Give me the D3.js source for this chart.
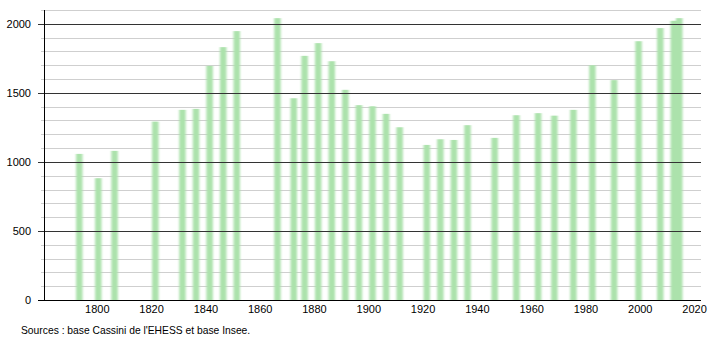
<!DOCTYPE html>
<html>
<head>
<meta charset="utf-8">
<script src="https://cdn.jsdelivr.net/npm/d3@7"></script>
<style>
  body { margin: 0; background: #fff; }
  svg { display: block; font-family: "Liberation Sans", Arial, sans-serif; }
</style>
</head>
<body>
<div id="chart"></div>
<script>
const years = [1793, 1800, 1806, 1821, 1831, 1836, 1841, 1846, 1851, 1866, 1872, 1876, 1881, 1886,
  1891, 1896, 1901, 1906, 1911, 1921, 1926, 1931, 1936, 1946, 1954, 1962, 1968, 1975, 1982,
  1990, 1999, 2007, 2012, 2014];
const population = [1058, 882, 1080, 1292, 1377, 1384, 1696, 1831, 1947, 2041, 1461, 1768, 1860, 1729,
  1522, 1411, 1403, 1348, 1251, 1123, 1164, 1159, 1266, 1174, 1338, 1353, 1335, 1377, 1700,
  1592, 1874, 1969, 2022, 2041];
const xTicks = [1800, 1820, 1840, 1860, 1880, 1900, 1920, 1940, 1960, 1980, 2000, 2020];
const yTicks = [0, 500, 1000, 1500, 2000];
const source = "Sources : base Cassini de l'EHESS et base Insee.";

const w = 710;
const h = 340;
const margin = { top: 10, left: 44, right: 9, bottom: 40 };

const svg = d3.select('#chart').append('svg').attr('width', w).attr('height', h);

svg.append('defs').append('filter')
  .attr('id', 'soft')
  .attr('x', '-50%').attr('width', '200%')
  .append('feGaussianBlur')
  .attr('stdDeviation', '0.8 0');

const x = d3.scaleLinear().domain([1780, 2022]).range([margin.left, w - margin.right]);
const y = d3.scaleLinear().domain([0, 2100]).range([h - margin.bottom, margin.top]);

// minor grid every 100
const minor = d3.range(100, 2101, 100).filter(v => v % 500 !== 0);
svg.append('g')
  .selectAll('line')
  .data(minor)
  .enter()
  .append('line')
  .attr('x1', margin.left - 3)
  .attr('x2', w - margin.right)
  .attr('y1', d => Math.round(y(d)) + 0.5)
  .attr('y2', d => Math.round(y(d)) + 0.5)
  .attr('stroke', '#cfcfcf');

// bars
svg.append('g')
  .attr('filter', 'url(#soft)')
  .selectAll('rect')
  .data(years)
  .enter()
  .append('rect')
  .attr('x', d => x(d) - 3.25)
  .attr('width', 6.5)
  .attr('y', (d, i) => y(population[i]))
  .attr('height', (d, i) => y(0) - y(population[i]))
  .attr('fill', '#ace2ac');

// major grid
svg.append('g')
  .selectAll('line')
  .data(yTicks.filter(v => v > 0))
  .enter()
  .append('line')
  .attr('x1', margin.left - 6)
  .attr('x2', w - margin.right)
  .attr('y1', d => Math.round(y(d)) + 0.5)
  .attr('y2', d => Math.round(y(d)) + 0.5)
  .attr('stroke', '#333');

// axes lines
svg.append('line')
  .attr('x1', margin.left + 0.5).attr('x2', margin.left + 0.5)
  .attr('y1', y(2100)).attr('y2', y(0))
  .attr('stroke', '#000');
svg.append('line')
  .attr('x1', margin.left - 6).attr('x2', w - margin.right)
  .attr('y1', Math.round(y(0)) + 0.5).attr('y2', Math.round(y(0)) + 0.5)
  .attr('stroke', '#000');

// y labels
svg.append('g')
  .selectAll('text')
  .data(yTicks)
  .enter()
  .append('text')
  .attr('x', 31)
  .attr('y', d => y(d) + 4)
  .attr('text-anchor', 'end')
  .attr('font-size', 11)
  .attr('fill', '#000')
  .text(d => d);

// x labels
svg.append('g')
  .selectAll('text')
  .data(xTicks)
  .enter()
  .append('text')
  .attr('x', d => x(d) - 1)
  .attr('y', 313)
  .attr('text-anchor', 'middle')
  .attr('font-size', 11)
  .attr('fill', '#000')
  .text(d => d);

svg.append('text')
  .attr('x', 21)
  .attr('y', 334)
  .attr('font-size', 10.3)
  .attr('fill', '#000')
  .text(source);
</script>
</body>
</html>
